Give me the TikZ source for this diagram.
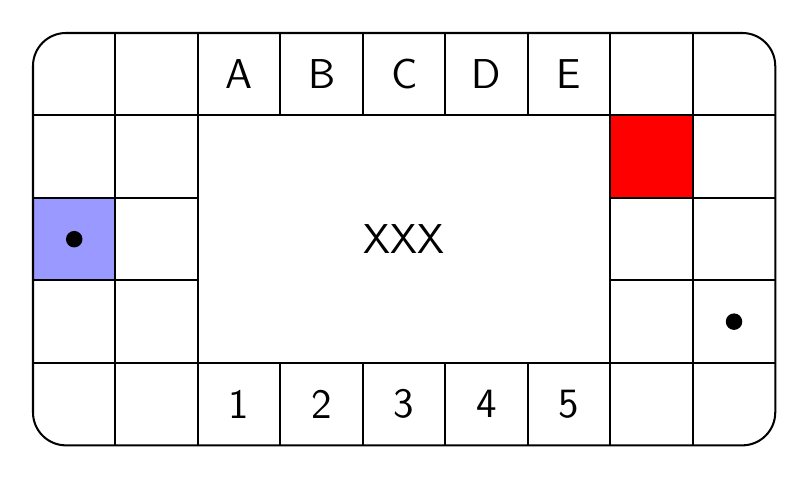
\documentclass[tikz,border=0pt]{standalone}
\begin{document}
\begin{tikzpicture}[x=1cm,y=1cm,line width=0.7pt,
  lbl/.style={font=\sffamily\Large,inner sep=0pt},
  dotmark/.style={circle,fill=black,minimum size=0.2cm,inner sep=0pt}]
\useasboundingbox (-0.4,-0.4) rectangle (9.3,5.4);
% coloured cells
\fill[red] (7,3) rectangle (8,4);
\fill[blue!40] (0,2) rectangle (1,3);
% grid lines
\draw (0,4) -- (9,4);
\draw (0,1) -- (9,1);
\draw (0,3) -- (2,3) (7,3) -- (9,3);
\draw (0,2) -- (2,2) (7,2) -- (9,2);
\foreach \x in {1,2,7,8} \draw (\x,0) -- (\x,5);
\foreach \x in {3,4,5,6} \draw (\x,4) -- (\x,5) (\x,0) -- (\x,1);
% outer frame
\draw[rounded corners=0.4cm] (0,0) rectangle (9,5);
% labels
\foreach \t [count=\i] in {A,B,C,D,E}
  \node[lbl] (top\i) at (\i+1.5,4.5) {\t};
\foreach \i in {1,...,5}
  \node[lbl] (bot\i) at (\i+1.5,0.5) {\i};
\node[lbl] (center) at (4.5,2.5) {XXX};
\node[dotmark] (dotA) at (0.5,2.5) {};
\node[dotmark] (dotB) at (8.5,1.5) {};
\end{tikzpicture}
\end{document}
